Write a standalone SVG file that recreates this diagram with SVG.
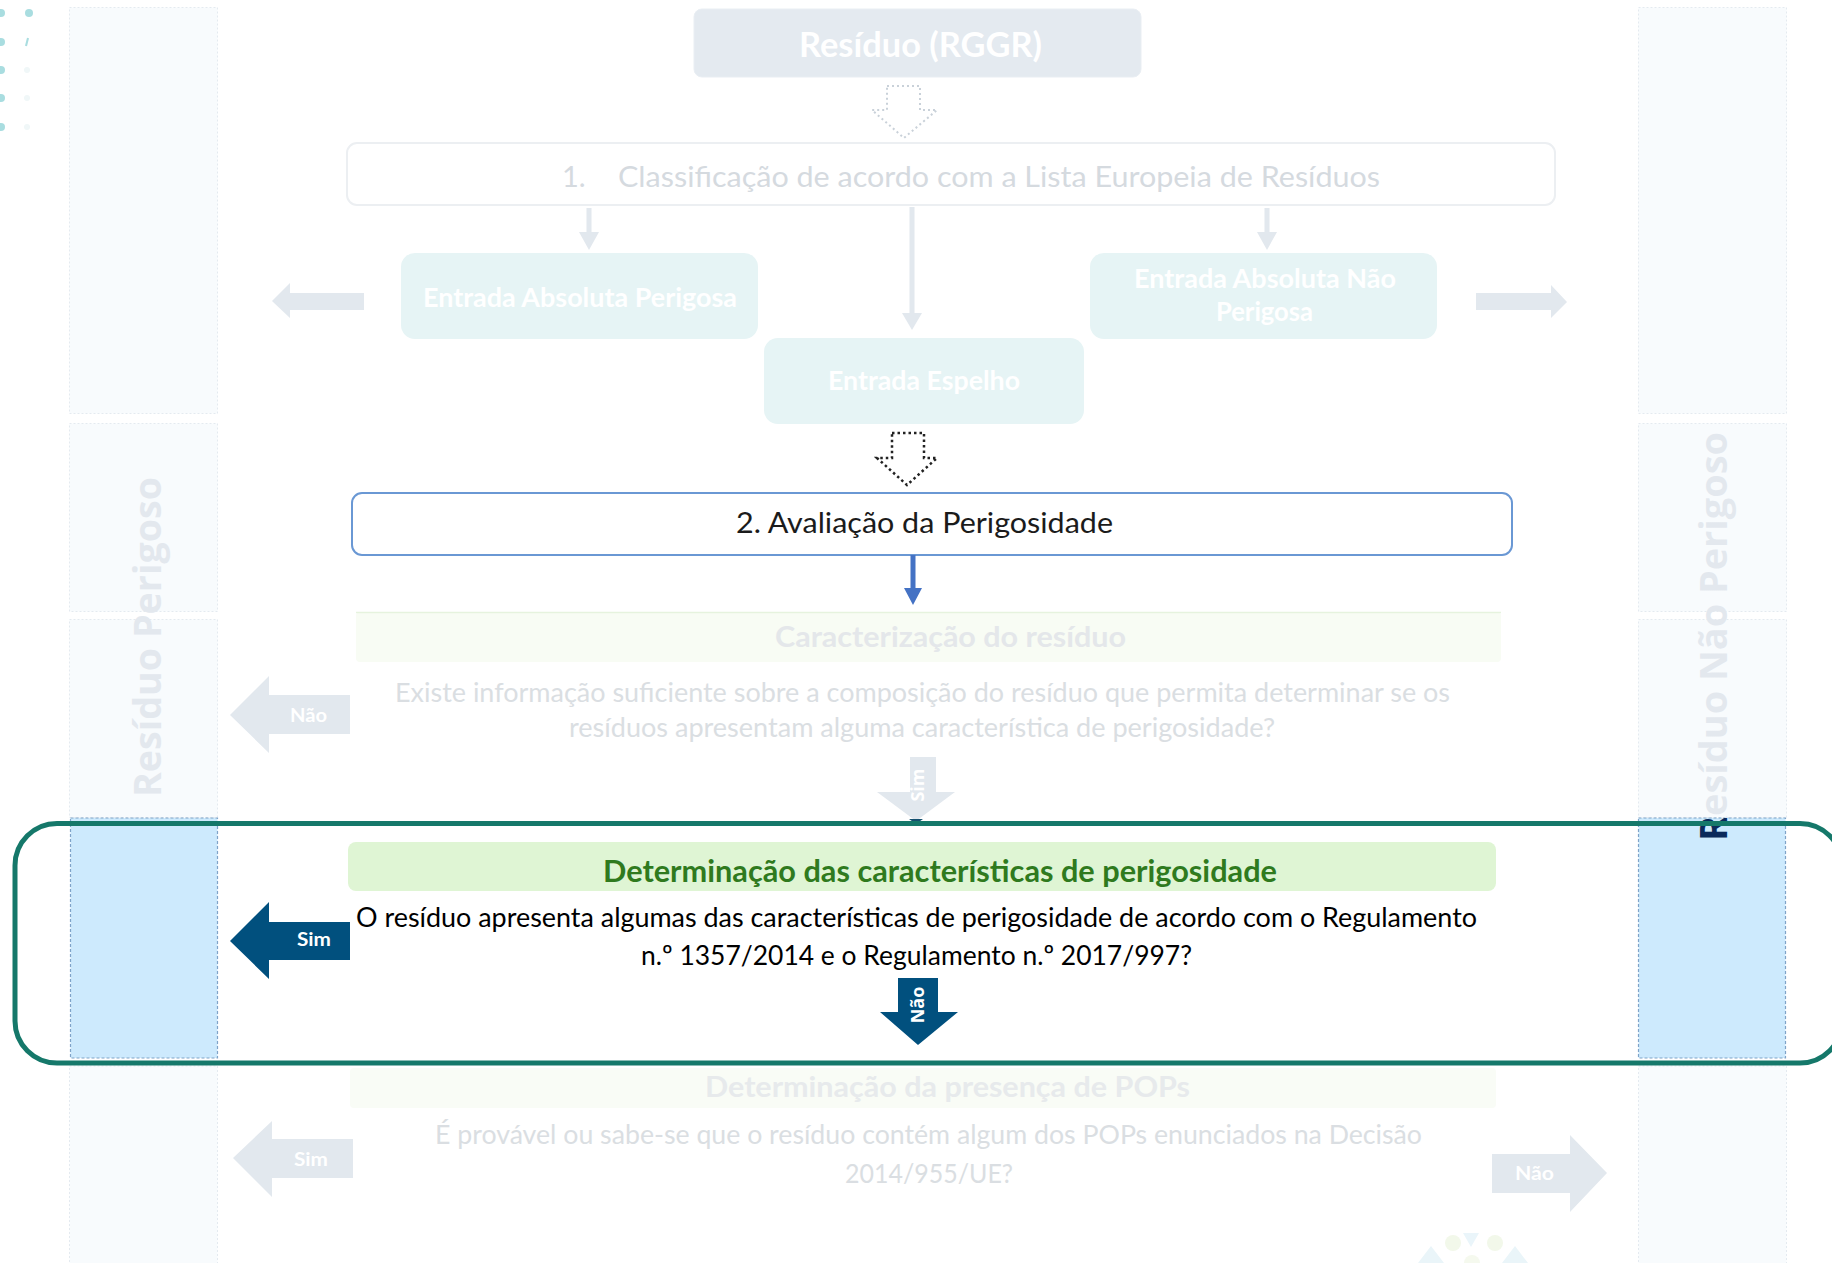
<svg xmlns="http://www.w3.org/2000/svg" width="1832" height="1263" viewBox="0 0 1832 1263">
<style>
.t{font-family:Lato,"Liberation Sans",sans-serif;}
.b{font-weight:700;}
.os{font-family:"Open Sans","DejaVu Sans",sans-serif;font-weight:700;}
.lane{fill:#f8fbfd;stroke:#e4eaf0;stroke-width:1;stroke-dasharray:2 2;}
.lane-hl{fill:#cdeafd;stroke:#7fa3c8;stroke-width:1.2;stroke-dasharray:3 2;}
.fa{fill:#e2e8ee;}
.da{fill:#01507e;}
.entry{fill:#e6f4f5;}
.wt{fill:#ffffff;}
.faint{fill:#dadee2;}
.fainthead{fill:#e4e7ea;}
</style>
<defs>
<linearGradient id="rgrad" gradientUnits="userSpaceOnUse" x1="0" y1="0" x2="420" y2="0">
<stop offset="0" stop-color="#0b2a5b"/>
<stop offset="0.054" stop-color="#0b2a5b"/>
<stop offset="0.054" stop-color="#e3e8ee"/>
<stop offset="1" stop-color="#e3e8ee"/>
</linearGradient>
</defs>
<rect x="0" y="0" width="1832" height="1263" fill="#ffffff"/>

<g id="decor-top-left" fill="#a9dde0">
<circle cx="1" cy="13" r="4"/>
<circle cx="29" cy="13" r="4"/>
<circle cx="1" cy="42" r="4"/>
<path d="M28 38 L26 46" stroke="#a9dde0" stroke-width="2"/>
<circle cx="1" cy="70" r="4"/>
<circle cx="1" cy="98" r="4"/>
<circle cx="1" cy="127" r="4"/>
<circle cx="27" cy="70" r="3" fill="#f0f7f8"/>
<circle cx="27" cy="98" r="3" fill="#f0f7f8"/>
<circle cx="27" cy="127" r="3" fill="#f0f7f8"/>
</g>

<g id="lane-left">
<rect class="lane" x="69.5" y="7.5" width="148" height="406"/>
<rect class="lane" x="69.5" y="423.5" width="148" height="188"/>
<rect class="lane" x="69.5" y="619.5" width="148" height="198"/>
<rect class="lane-hl" x="70.5" y="818" width="147" height="240"/>
<rect class="lane" x="69.5" y="1066" width="148" height="200"/>
<text class="os" transform="translate(161,797) rotate(-90)" x="0" y="0" font-size="38" fill="#e3e8ee" textLength="320" lengthAdjust="spacingAndGlyphs">Resíduo Perigoso</text>
</g>

<g id="lane-right">
<rect class="lane" x="1638.5" y="7.5" width="148" height="406"/>
<rect class="lane" x="1638.5" y="423.5" width="148" height="188"/>
<rect class="lane" x="1638.5" y="619.5" width="148" height="198"/>
<rect class="lane-hl" x="1638.5" y="818" width="147" height="240"/>
<rect class="lane" x="1638.5" y="1066" width="148" height="200"/>
<text class="os" transform="translate(1727,841) rotate(-90)" x="0" y="0" font-size="38" fill="url(#rgrad)" textLength="409" lengthAdjust="spacingAndGlyphs">Resíduo Não Perigoso</text>
</g>

<g id="node-residuo">
<rect x="694" y="9" width="447" height="68" rx="8" fill="#e4eaf0" stroke="#e9eef3" stroke-width="1"/>
<text class="t b wt" x="799" y="57" font-size="35" textLength="243" lengthAdjust="spacingAndGlyphs">Resíduo (RGGR)</text>
</g>

<g id="node-classificacao">
<rect x="347" y="143" width="1208" height="62" rx="10" fill="#ffffff" stroke="#eceff2" stroke-width="2"/>
<text class="t" font-size="29" fill="#d5dadf"><tspan x="562" y="187">1.</tspan><tspan x="618" y="187" textLength="762" lengthAdjust="spacingAndGlyphs">Classificação de acordo com a Lista Europeia de Resíduos</tspan></text>
</g>

<g id="node-entrada-perigosa">
<rect class="entry" x="401" y="253" width="357" height="86" rx="14"/>
<text class="t b wt" x="423" y="307" font-size="27" textLength="314" lengthAdjust="spacingAndGlyphs">Entrada Absoluta Perigosa</text>
</g>

<g id="node-entrada-nao-perigosa">
<rect class="entry" x="1090" y="253" width="347" height="86" rx="14"/>
<text class="t b wt" x="1134" y="288" font-size="27" textLength="262" lengthAdjust="spacingAndGlyphs">Entrada Absoluta Não</text>
<text class="t b wt" x="1216" y="321" font-size="27" textLength="97" lengthAdjust="spacingAndGlyphs">Perigosa</text>
</g>

<g id="node-entrada-espelho">
<rect class="entry" x="764" y="338" width="320" height="86" rx="14"/>
<text class="t b wt" x="828" y="390" font-size="27" textLength="192" lengthAdjust="spacingAndGlyphs">Entrada Espelho</text>
</g>

<g id="node-avaliacao">
<rect x="352" y="493" width="1160" height="62" rx="10" fill="#ffffff" stroke="#6a98d4" stroke-width="2"/>
<text class="t" x="736" y="533" font-size="29.5" fill="#1b1b1b" textLength="377" lengthAdjust="spacingAndGlyphs">2. Avaliação da Perigosidade</text>
</g>

<g id="node-caracterizacao">
<rect x="356" y="612" width="1145" height="50" rx="4" fill="#f8fcf4"/>
<line x1="356" y1="612.5" x2="1501" y2="612.5" stroke="#e6f3de" stroke-width="1.5"/>
<text class="t b fainthead" x="775" y="647" font-size="28" textLength="351" lengthAdjust="spacingAndGlyphs">Caracterização do resíduo</text>
<text class="t faint" x="395" y="702" font-size="26.5" textLength="1055" lengthAdjust="spacingAndGlyphs">Existe informação suficiente sobre a composição do resíduo que permita determinar se os</text>
<text class="t faint" x="569" y="737" font-size="26.5" textLength="706" lengthAdjust="spacingAndGlyphs">resíduos apresentam alguma característica de perigosidade?</text>
</g>

<g id="node-determinacao">
<rect x="348" y="842" width="1148" height="49" rx="8" fill="#dff5d4"/>
<text class="t b" x="603" y="882" font-size="30" fill="#2f7a1e" textLength="674" lengthAdjust="spacingAndGlyphs">Determinação das características de perigosidade</text>
<text class="t" x="356" y="927" font-size="27" fill="#000000" textLength="1121" lengthAdjust="spacingAndGlyphs">O resíduo apresenta algumas das características de perigosidade de acordo com o Regulamento</text>
<text class="t" x="641" y="965" font-size="27" fill="#000000" textLength="551" lengthAdjust="spacingAndGlyphs">n.º 1357/2014 e o Regulamento n.º 2017/997?</text>
</g>

<g id="node-pops">
<rect x="350" y="1068" width="1146" height="40" rx="4" fill="#f9fcf6"/>
<text class="t b" x="705" y="1097" font-size="28" fill="#e7eaec" textLength="485" lengthAdjust="spacingAndGlyphs">Determinação da presença de POPs</text>
<text class="t faint" x="435" y="1144" font-size="26.5" textLength="987" lengthAdjust="spacingAndGlyphs">É provável ou sabe-se que o resíduo contém algum dos POPs enunciados na Decisão</text>
<text class="t faint" x="845" y="1183" font-size="26.5" textLength="168" lengthAdjust="spacingAndGlyphs">2014/955/UE?</text>
</g>

<g id="connectors">
<polygon points="887,86 920,86 920,110 937,110 904,138 872,110 887,110" fill="#ffffff" stroke="#c9d1d9" stroke-width="2" stroke-dasharray="2 3"/>
<polygon class="fa" points="586.5,208 591.5,208 591.5,232 599,232 589,250 579,232 586.5,232"/>
<polygon class="fa" points="909.5,207 914.5,207 914.5,313 922,313 912,330 902,313 909.5,313"/>
<polygon class="fa" points="1264.5,208 1269.5,208 1269.5,232 1277,232 1267,250 1257,232 1264.5,232"/>
<polygon class="fa" points="364,293 290,293 290,283 272,301 290,318 290,310 364,310"/>
<polygon class="fa" points="1476,293 1551,293 1551,285 1567,302 1551,318 1551,310 1476,310"/>
<polygon points="892,433 924,433 924,458 937,458 907,485 877,458 892,458" fill="#ffffff" stroke="#222222" stroke-width="2.5" stroke-dasharray="2.5 3"/>
<polygon points="910.5,555 915.5,555 915.5,588 922,588 913,605 904,588 910.5,588" fill="#4472c4"/>
<polygon class="fa" points="350,695 269,695 269,676 230,715 269,753 269,734 350,734"/>
<text class="t b wt" x="290" y="722" font-size="19" textLength="37" lengthAdjust="spacingAndGlyphs">Não</text>
<polygon class="fa" points="910,757 936,757 936,792 955,792 916,821 877,792 910,792"/>
<polygon points="909,819 923,819 916,824" fill="#14506f"/>
<text class="os wt" transform="translate(924,785) rotate(-90)" x="0" y="0" font-size="18" text-anchor="middle">Sim</text>
<polygon class="da" points="350,922 269,922 269,902 230,941 269,979 269,960 350,960"/>
<text class="t b wt" x="297" y="946" font-size="19" textLength="34" lengthAdjust="spacingAndGlyphs">Sim</text>
<polygon class="da" points="898,978 938,978 938,1012 958,1012 918,1045 880,1012 898,1012"/>
<text class="os wt" transform="translate(924,1005) rotate(-90)" x="0" y="0" font-size="18" text-anchor="middle">Não</text>
<polygon class="fa" points="353,1139 272,1139 272,1121 233,1158 272,1197 272,1178 353,1178"/>
<text class="t b wt" x="294" y="1166" font-size="19" textLength="34" lengthAdjust="spacingAndGlyphs">Sim</text>
<polygon class="fa" points="1492,1154 1570,1154 1570,1135 1607,1173 1570,1212 1570,1193 1492,1193"/>
<text class="t b wt" x="1515" y="1180" font-size="19" textLength="39" lengthAdjust="spacingAndGlyphs">Não</text>
</g>

<g id="highlight-frame">
<rect x="15" y="823.5" width="1827" height="239.5" rx="42" ry="42" fill="none" stroke="#15786a" stroke-width="5"/>
</g>

<g id="decor-bottom-logo">
<polygon points="1418,1263 1431,1246 1444,1263" fill="#eaf5f9"/>
<circle cx="1453" cy="1243" r="8" fill="#f2f8ea"/>
<polygon points="1463,1233 1479,1233 1471,1247" fill="#eaf5fa"/>
<circle cx="1495" cy="1243" r="8" fill="#f2f8ea"/>
<polygon points="1502,1263 1515,1246 1528,1263" fill="#eaf5f9"/>
<circle cx="1472" cy="1263" r="8" fill="#f5f9ee"/>
</g>
</svg>
